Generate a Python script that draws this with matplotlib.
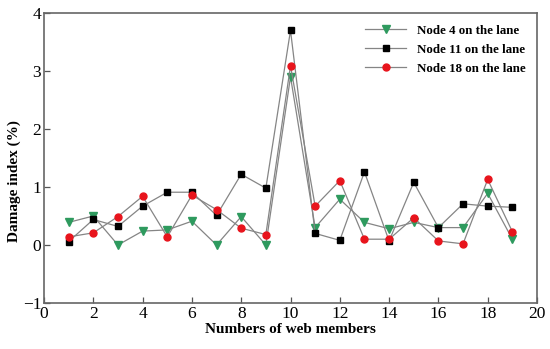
import matplotlib.pyplot as plt

plt.rcParams['font.family'] = ['Liberation Serif', 'DejaVu Serif']

members = list(range(1, 20))
node4 = [0.39, 0.50, 0.0, 0.24, 0.26, 0.41, 0.0, 0.49, 0.0, 2.90,
         0.30, 0.79, 0.39, 0.28, 0.39, 0.30, 0.30, 0.89, 0.10]
node11 = [0.06, 0.44, 0.32, 0.67, 0.91, 0.91, 0.51, 1.22, 0.98, 3.70,
          0.20, 0.08, 1.26, 0.07, 1.08, 0.30, 0.71, 0.67, 0.65]
node18 = [0.14, 0.21, 0.49, 0.84, 0.14, 0.86, 0.61, 0.29, 0.18, 3.09,
          0.67, 1.11, 0.10, 0.10, 0.47, 0.07, 0.02, 1.13, 0.23]

fig = plt.figure(figsize=(5.5, 3.49), dpi=100)
ax = fig.add_axes([44 / 550, 46 / 349, 493 / 550, 290 / 349])

line_c = '#858585'
ax.plot(members, node4, color=line_c, lw=0.9, marker='v', ms=6,
        mfc='#2e9a5e', mec='#2e9a5e', label='Node 4 on the lane')
ax.plot(members, node11, color=line_c, lw=0.9, marker='s', ms=4.5,
        mfc='black', mec='black', label='Node 11 on the lane')
ax.plot(members, node18, color=line_c, lw=0.9, marker='o', ms=5,
        mfc='#e8141c', mec='#e8141c', label='Node 18 on the lane')

ax.set_xlim(0, 20)
ax.set_ylim(-1, 4)
ax.set_xticks(range(0, 21, 2))
ax.set_yticks(range(-1, 5))
ax.tick_params(direction='in', length=4, width=0.9, color='#555555',
               labelsize=12.5, pad=2, top=False, right=False)
for s in ax.spines.values():
    s.set_color('#666666')
    s.set_linewidth(1.2)

ax.set_xlabel('Numbers of web members', fontsize=11, fontweight='bold',
              labelpad=1)
ax.set_ylabel('Damage index (%)', fontsize=11, fontweight='bold')
# label sits a bit below the axis centre in the original
ax.yaxis.set_label_coords(-0.046, 0.42)

ax.legend(loc='upper right', frameon=False,
          prop={'weight': 'bold', 'size': 9.3}, handlelength=3.2,
          borderaxespad=0.5, labelspacing=0.55, handletextpad=0.8)

fig.savefig('out.png', dpi=100)
